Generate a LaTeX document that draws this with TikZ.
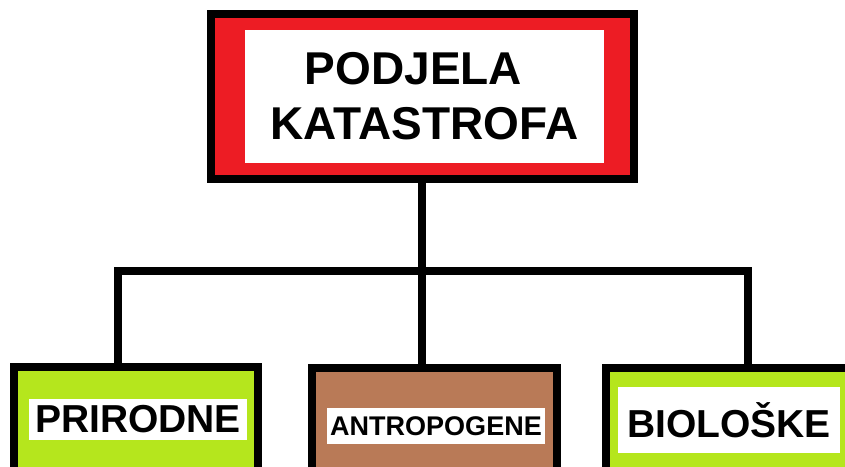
\documentclass[tikz,border=0pt]{standalone}
\usepackage{fontspec}
\setmainfont{Liberation Sans}
\usetikzlibrary{positioning}
\definecolor{crvena}{HTML}{ED1C24}
\definecolor{zelena}{HTML}{B5E61D}
\definecolor{smeda}{HTML}{B97A57}

\begin{document}
\begin{tikzpicture}[x=1pt, y=-1pt,
    okvir/.style = {draw=black, line width=8pt, outer sep=0pt, inner sep=0pt},
    natpis/.style = {fill=white, inner sep=0pt, align=center},
    veza/.style = {line width=8pt, miter limit=10}]
  \useasboundingbox (0,0) rectangle (845,466);
  \clip (0,0) rectangle (845,466);

  % glavni okvir
  \node[okvir, fill=crvena, minimum width=423pt, minimum height=165pt] (podjela) at (422,96.5) {};
  \node[natpis, minimum width=359pt, minimum height=133pt,
        font=\bfseries\fontsize{46}{55}\selectfont] (naslov) at (424.5,96.5) {PODJELA\hspace*{22pt}\\KATASTROFA};

  % grananje
  \coordinate (grana) at (422,271);
  \coordinate[left=304pt of grana] (lijevo);
  \coordinate[right=325.5pt of grana] (desno);

  % vrste katastrofa
  \node[okvir, fill=zelena, minimum width=244pt, minimum height=193pt] (prirodne) at (136,463.5) {};
  \node[okvir, fill=smeda, minimum width=245pt, minimum height=193pt] (antropogene) at (434.5,464.5) {};
  \node[okvir, fill=zelena, minimum width=284pt, minimum height=193pt] (bioloske) at (748,464.5) {};

  \node[natpis, minimum width=218pt, minimum height=41pt,
        font=\bfseries\fontsize{39}{44}\selectfont] (prirodneT) at (138,419.5) {PRIRODNE};
  \node[natpis, minimum width=218pt, minimum height=36pt,
        font=\bfseries\fontsize{27}{30}\selectfont] (antropogeneT) at (436,426) {ANTROPOGENE};
  \node[natpis, minimum width=222pt, minimum height=66pt,
        font=\bfseries\fontsize{39}{44}\selectfont] (bioloskeT) at (729,420) {BIOLOŠKE};

  \draw[veza] (podjela.south) -- (grana);
  \draw[veza] (lijevo |- prirodne.north) -- (lijevo) -- (desno) -- (desno |- bioloske.north);
  \draw[veza] (grana) -- (grana |- antropogene.north);
\end{tikzpicture}
\end{document}
